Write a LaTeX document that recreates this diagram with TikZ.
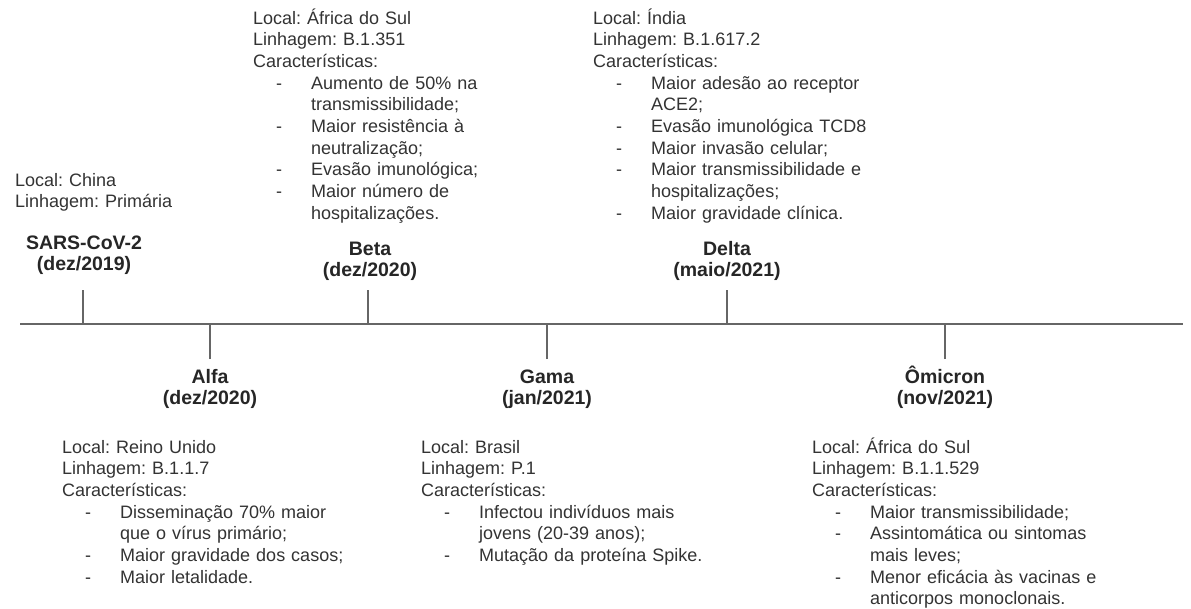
\documentclass[tikz,border=0pt]{standalone}
\usepackage{fontspec}
\setmainfont{Liberation Sans}
\frenchspacing
\newcommand\dashit{\makebox[58pt][l]{\hspace*{23pt}-}}
\newcommand\contline{\hspace*{58pt}}
\begin{document}
\begin{tikzpicture}[x=1pt,y=-1pt,
  info/.style={anchor=base west, inner sep=0pt, text width=330pt, align=left,
    font=\fontsize{18}{21.7}\selectfont\frenchspacing, text=black!80},
  title/.style={anchor=base, inner sep=0pt, text width=220pt, align=center,
    font=\fontsize{19.5}{21.5}\selectfont\bfseries, text=black!85},
  axisline/.style={draw=black!60, line width=1.4pt},
  tick/.style={draw=black!60, line width=1.2pt}]
\useasboundingbox[fill=white] (0,0) rectangle (1191,608);

% axis
\coordinate (L) at (20,324);
\coordinate (R) at (1183,324);
\draw[axisline] (L) -- (R);

% tick ends
\coordinate (sarsT) at (83,290);
\coordinate (betaT) at (368,290);
\coordinate (deltaT) at (727,290);
\coordinate (alfaB) at (210,359);
\coordinate (gamaB) at (547,359);
\coordinate (omiB) at (945,359);
\draw[tick] (sarsT) -- (sarsT |- L);
\draw[tick] (betaT) -- (betaT |- L);
\draw[tick] (deltaT) -- (deltaT |- L);
\draw[tick] (alfaB) -- (alfaB |- L);
\draw[tick] (gamaB) -- (gamaB |- L);
\draw[tick] (omiB) -- (omiB |- L);

% titles
\node[title] (sars) at (84,249) {SARS-CoV-2\\(dez/2019)};
\node[title] (beta) at (370,255) {Beta\\(dez/2020)};
\node[title] (delta) at (727,255) {Delta\\(maio/2021)};
\node[title] (alfa) at (210,383) {Alfa\\(dez/2020)};
\node[title] (gama) at (547,383) {Gama\\(jan/2021)};
\node[title] (omicron) at (945,383) {Ômicron\\(nov/2021)};

% info blocks
\node[info] (chinaInfo) at (15,186) {Local: China\\Linhagem: Primária};

\node[info] (betaInfo) at (253,24) {Local: África do Sul\\
Linhagem: B.1.351\\
Características:\\
\dashit Aumento de 50\% na\\
\contline transmissibilidade;\\
\dashit Maior resistência à\\
\contline neutralização;\\
\dashit Evasão imunológica;\\
\dashit Maior número de\\
\contline hospitalizações.};

\node[info] (deltaInfo) at (593,24) {Local: Índia\\
Linhagem: B.1.617.2\\
Características:\\
\dashit Maior adesão ao receptor\\
\contline ACE2;\\
\dashit Evasão imunológica TCD8\\
\dashit Maior invasão celular;\\
\dashit Maior transmissibilidade e\\
\contline hospitalizações;\\
\dashit Maior gravidade clínica.};

\node[info] (alfaInfo) at (62,453) {Local: Reino Unido\\
Linhagem: B.1.1.7\\
Características:\\
\dashit Disseminação 70\% maior\\
\contline que o vírus primário;\\
\dashit Maior gravidade dos casos;\\
\dashit Maior letalidade.};

\node[info] (gamaInfo) at (421,453) {Local: Brasil\\
Linhagem: P.1\\
Características:\\
\dashit Infectou indivíduos mais\\
\contline jovens (20-39 anos);\\
\dashit Mutação da proteína Spike.};

\node[info] (omiInfo) at (812,453) {Local: África do Sul\\
Linhagem: B.1.1.529\\
Características:\\
\dashit Maior transmissibilidade;\\
\dashit Assintomática ou sintomas\\
\contline mais leves;\\
\dashit Menor eficácia às vacinas e\\
\contline anticorpos monoclonais.};
\end{tikzpicture}
\end{document}
